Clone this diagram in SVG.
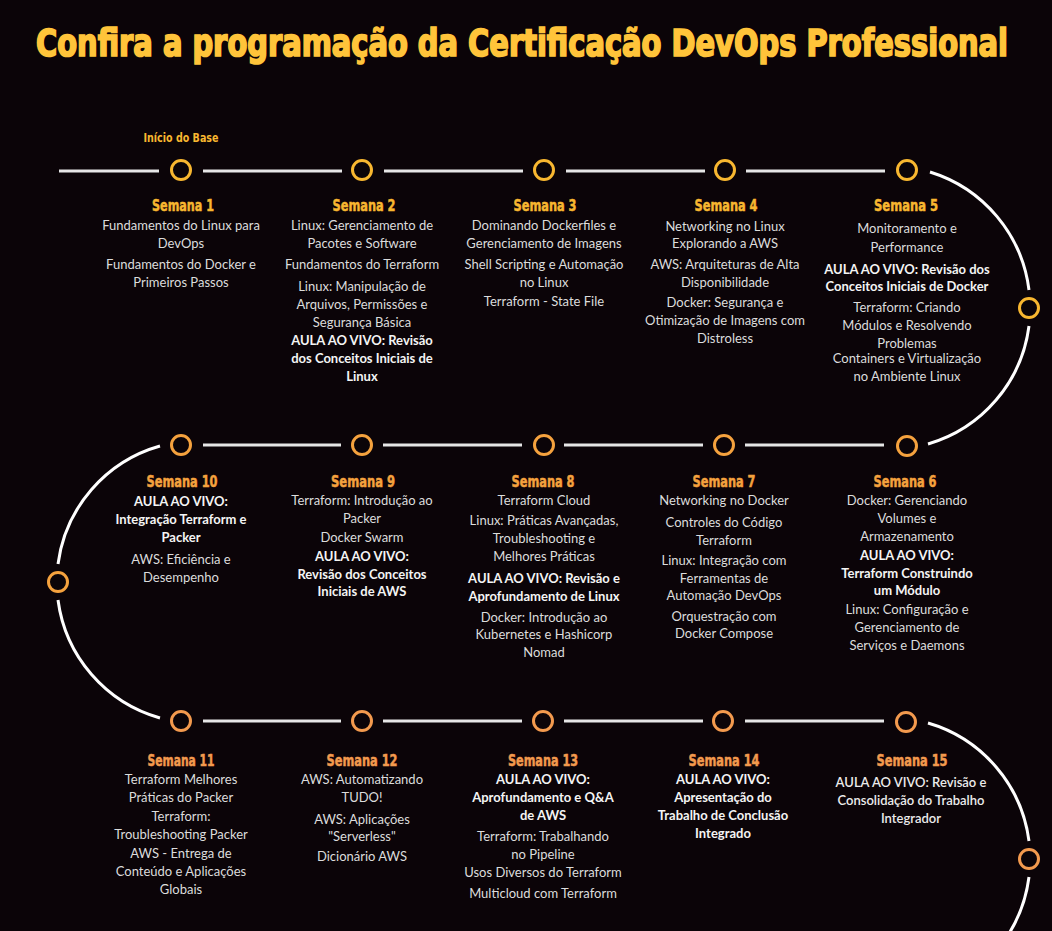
<svg xmlns="http://www.w3.org/2000/svg" width="1052" height="931" viewBox="0 0 1052 931">
<style>
.title{font-family:"DejaVu Sans Condensed","Liberation Sans Narrow","Liberation Sans",sans-serif;font-weight:bold;font-size:28px;fill:#FFC43A;stroke:#FFC43A;stroke-width:1.3px}
.start{font-family:"DejaVu Sans Condensed","Liberation Sans Narrow","Liberation Sans",sans-serif;font-weight:bold;font-size:12px;fill:#F8B730;text-anchor:middle}
.h{font-family:"DejaVu Sans Condensed","Liberation Sans Narrow","Liberation Sans",sans-serif;font-weight:bold;font-size:16px;text-anchor:middle;stroke-width:0.5px}
.r1 .h{fill:#F8B730;stroke:#F8B730}.r2 .h{fill:#F5A23E;stroke:#F5A23E}.r3 .h{fill:#F39A4E;stroke:#F39A4E}
.t{font-family:Lato,"Liberation Sans",sans-serif;font-size:13px;fill:#DCDCDC;text-anchor:middle}
.b{font-family:Lato,"Liberation Sans",sans-serif;font-size:13px;font-weight:bold;fill:#F4F4F4;text-anchor:middle}
.m{font-family:Lato,"Liberation Sans",sans-serif;font-size:13px;font-weight:600;fill:#EBEBEB;text-anchor:middle}
.dot{fill:none;stroke-width:3}
.c1{stroke:#F8B730}.c2{stroke:#F5A23E}.c3{stroke:#F39A4E}
.ln{stroke:#E6E6E6;stroke-width:3;fill:none}
.arc{stroke:#FFFFFF;stroke-width:3;fill:none}
</style>
<rect width="1052" height="931" fill="#0B0408"/>
<text class="title" transform="translate(36,56) scale(1,1.3)" x="0" y="0" textLength="972" lengthAdjust="spacingAndGlyphs">Confira a programação da Certificação DevOps Professional</text>

<g id="connectors">
<path class="ln" d="M59,171H159M203,171H342M384,171H523M566,171H705M746,171H885"/>
<path class="ln" d="M203,445H341M383,445H522M564,445H703M745,445H884"/>
<path class="ln" d="M203,721H341M383,721H522M564,721H703M745,721H884"/>
<path class="arc" d="M930,172A142,142 0 0 1 1029,290M1029,326A142,142 0 0 1 928,444"/>
<path class="arc" d="M160,446A142,142 0 0 0 58,564M58,600A142,142 0 0 0 160,718"/>
<path class="arc" d="M928,723A142,142 0 0 1 1029,841M1029,877A142,142 0 0 1 997,950"/>
</g>

<g id="turns">
<circle class="dot c1" cx="1029" cy="308" r="9.5"/>
<circle class="dot c2" cx="58" cy="582" r="9.5"/>
<circle class="dot c3" cx="1029" cy="859" r="9.5"/>
</g>

<g class="r1">
<g id="semana1">
<text class="start" x="181" y="142" textLength="75" lengthAdjust="spacingAndGlyphs">Início do Base</text>
<circle class="dot c1" cx="181" cy="170" r="9.5"/>
<text class="h" x="183" y="211" textLength="62" lengthAdjust="spacingAndGlyphs">Semana 1</text>
<text class="t" x="181" y="230">Fundamentos do Linux para</text>
<text class="t" x="181" y="248">DevOps</text>
<text class="t" x="181" y="269">Fundamentos do Docker e</text>
<text class="t" x="181" y="287">Primeiros Passos</text>
</g>
<g id="semana2">
<circle class="dot c1" cx="362" cy="170" r="9.5"/>
<text class="h" x="364" y="211" textLength="63" lengthAdjust="spacingAndGlyphs">Semana 2</text>
<text class="t" x="362" y="230">Linux: Gerenciamento de</text>
<text class="t" x="362" y="248">Pacotes e Software</text>
<text class="t" x="362" y="269">Fundamentos do Terraform</text>
<text class="t" x="362" y="291">Linux: Manipulação de</text>
<text class="t" x="362" y="309">Arquivos, Permissões e</text>
<text class="t" x="362" y="327">Segurança Básica</text>
<text class="b" x="362" y="345">AULA AO VIVO: Revisão</text>
<text class="b" x="362" y="363">dos Conceitos Iniciais de</text>
<text class="b" x="362" y="381">Linux</text>
</g>
<g id="semana3">
<circle class="dot c1" cx="544" cy="170" r="9.5"/>
<text class="h" x="545" y="211" textLength="63" lengthAdjust="spacingAndGlyphs">Semana 3</text>
<text class="t" x="544" y="230">Dominando Dockerfiles e</text>
<text class="t" x="544" y="248">Gerenciamento de Imagens</text>
<text class="t" x="544" y="269">Shell Scripting e Automação</text>
<text class="t" x="544" y="287">no Linux</text>
<text class="t" x="544" y="306">Terraform - State File</text>
</g>
<g id="semana4">
<circle class="dot c1" cx="725" cy="170" r="9.5"/>
<text class="h" x="726" y="211" textLength="63" lengthAdjust="spacingAndGlyphs">Semana 4</text>
<text class="t" x="725" y="231">Networking no Linux</text>
<text class="t" x="725" y="248">Explorando a AWS</text>
<text class="t" x="725" y="269">AWS: Arquiteturas de Alta</text>
<text class="t" x="725" y="287">Disponibilidade</text>
<text class="t" x="725" y="307">Docker: Segurança e</text>
<text class="t" x="725" y="325">Otimização de Imagens com</text>
<text class="t" x="725" y="343">Distroless</text>
</g>
<g id="semana5">
<circle class="dot c1" cx="907" cy="170" r="9.5"/>
<text class="h" x="906" y="211" textLength="64" lengthAdjust="spacingAndGlyphs">Semana 5</text>
<text class="t" x="907" y="233">Monitoramento e</text>
<text class="t" x="907" y="252">Performance</text>
<text class="b" x="907" y="274">AULA AO VIVO: Revisão dos</text>
<text class="b" x="907" y="291">Conceitos Iniciais de Docker</text>
<text class="t" x="907" y="312">Terraform: Criando</text>
<text class="t" x="907" y="330">Módulos e Resolvendo</text>
<text class="t" x="907" y="348">Problemas</text>
<text class="t" x="907" y="363">Containers e Virtualização</text>
<text class="t" x="907" y="381">no Ambiente Linux</text>
</g>
</g>

<g class="r2">
<g id="semana6">
<circle class="dot c2" cx="907" cy="446" r="9.5"/>
<text class="h" x="905" y="487" textLength="63" lengthAdjust="spacingAndGlyphs">Semana 6</text>
<text class="t" x="907" y="505">Docker: Gerenciando</text>
<text class="t" x="907" y="523">Volumes e</text>
<text class="t" x="907" y="541">Armazenamento</text>
<text class="b" x="907" y="560">AULA AO VIVO:</text>
<text class="b" x="907" y="578">Terraform Construindo</text>
<text class="b" x="907" y="595">um Módulo</text>
<text class="t" x="907" y="614">Linux: Configuração e</text>
<text class="t" x="907" y="632">Gerenciamento de</text>
<text class="t" x="907" y="650">Serviços e Daemons</text>
</g>
<g id="semana7">
<circle class="dot c2" cx="724" cy="445" r="9.5"/>
<text class="h" x="724" y="487" textLength="63" lengthAdjust="spacingAndGlyphs">Semana 7</text>
<text class="t" x="724" y="505">Networking no Docker</text>
<text class="t" x="724" y="527">Controles do Código</text>
<text class="t" x="724" y="545">Terraform</text>
<text class="t" x="724" y="565">Linux: Integração com</text>
<text class="t" x="724" y="583">Ferramentas de</text>
<text class="t" x="724" y="600">Automação DevOps</text>
<text class="t" x="724" y="621">Orquestração com</text>
<text class="t" x="724" y="638">Docker Compose</text>
</g>
<g id="semana8">
<circle class="dot c2" cx="544" cy="445" r="9.5"/>
<text class="h" x="543" y="487" textLength="63" lengthAdjust="spacingAndGlyphs">Semana 8</text>
<text class="t" x="544" y="505">Terraform Cloud</text>
<text class="t" x="544" y="525">Linux: Práticas Avançadas,</text>
<text class="t" x="544" y="543">Troubleshooting e</text>
<text class="t" x="544" y="561">Melhores Práticas</text>
<text class="b" x="544" y="583">AULA AO VIVO: Revisão e</text>
<text class="b" x="544" y="601">Aprofundamento de Linux</text>
<text class="t" x="544" y="622">Docker: Introdução ao</text>
<text class="t" x="544" y="639">Kubernetes e Hashicorp</text>
<text class="t" x="544" y="657">Nomad</text>
</g>
<g id="semana9">
<circle class="dot c2" cx="362" cy="445" r="9.5"/>
<text class="h" x="363" y="487" textLength="64" lengthAdjust="spacingAndGlyphs">Semana 9</text>
<text class="t" x="362" y="505">Terraform: Introdução ao</text>
<text class="t" x="362" y="523">Packer</text>
<text class="t" x="362" y="542">Docker Swarm</text>
<text class="b" x="362" y="561">AULA AO VIVO:</text>
<text class="b" x="362" y="579">Revisão dos Conceitos</text>
<text class="b" x="362" y="596">Iniciais de AWS</text>
</g>
<g id="semana10">
<circle class="dot c2" cx="181" cy="445" r="9.5"/>
<text class="h" x="182" y="487" textLength="71" lengthAdjust="spacingAndGlyphs">Semana 10</text>
<text class="b" x="181" y="506">AULA AO VIVO:</text>
<text class="b" x="181" y="524">Integração Terraform e</text>
<text class="b" x="181" y="542">Packer</text>
<text class="t" x="181" y="564">AWS: Eficiência e</text>
<text class="t" x="181" y="582">Desempenho</text>
</g>
</g>

<g class="r3">
<g id="semana11">
<circle class="dot c3" cx="181" cy="721" r="9.5"/>
<text class="h" x="181" y="766" textLength="67" lengthAdjust="spacingAndGlyphs">Semana 11</text>
<text class="t" x="181" y="784">Terraform Melhores</text>
<text class="t" x="181" y="802">Práticas do Packer</text>
<text class="t" x="181" y="821">Terraform:</text>
<text class="t" x="181" y="839">Troubleshooting Packer</text>
<text class="t" x="181" y="858">AWS - Entrega de</text>
<text class="t" x="181" y="876">Conteúdo e Aplicações</text>
<text class="t" x="181" y="894">Globais</text>
</g>
<g id="semana12">
<circle class="dot c3" cx="362" cy="721" r="9.5"/>
<text class="h" x="362" y="766" textLength="71" lengthAdjust="spacingAndGlyphs">Semana 12</text>
<text class="t" x="362" y="784">AWS: Automatizando</text>
<text class="t" x="362" y="802">TUDO!</text>
<text class="t" x="362" y="824">AWS: Aplicações</text>
<text class="t" x="362" y="841">"Serverless"</text>
<text class="t" x="362" y="861">Dicionário AWS</text>
</g>
<g id="semana13">
<circle class="dot c3" cx="543" cy="721" r="9.5"/>
<text class="h" x="543" y="766" textLength="70" lengthAdjust="spacingAndGlyphs">Semana 13</text>
<text class="b" x="543" y="784">AULA AO VIVO:</text>
<text class="b" x="543" y="802">Aprofundamento e Q&amp;A</text>
<text class="b" x="543" y="820">de AWS</text>
<text class="t" x="543" y="841">Terraform: Trabalhando</text>
<text class="t" x="543" y="859">no Pipeline</text>
<text class="t" x="543" y="877">Usos Diversos do Terraform</text>
<text class="t" x="543" y="898">Multicloud com Terraform</text>
</g>
<g id="semana14">
<circle class="dot c3" cx="723" cy="721" r="9.5"/>
<text class="h" x="724" y="766" textLength="71" lengthAdjust="spacingAndGlyphs">Semana 14</text>
<text class="b" x="723" y="784">AULA AO VIVO:</text>
<text class="b" x="723" y="802">Apresentação do</text>
<text class="b" x="723" y="820">Trabalho de Conclusão</text>
<text class="b" x="723" y="838">Integrado</text>
</g>
<g id="semana15">
<circle class="dot c3" cx="906" cy="722" r="9.5"/>
<text class="h" x="912" y="766" textLength="71" lengthAdjust="spacingAndGlyphs">Semana 15</text>
<text class="m" x="911" y="787">AULA AO VIVO: Revisão e</text>
<text class="m" x="911" y="805">Consolidação do Trabalho</text>
<text class="m" x="911" y="823">Integrador</text>
</g>
</g>
</svg>
